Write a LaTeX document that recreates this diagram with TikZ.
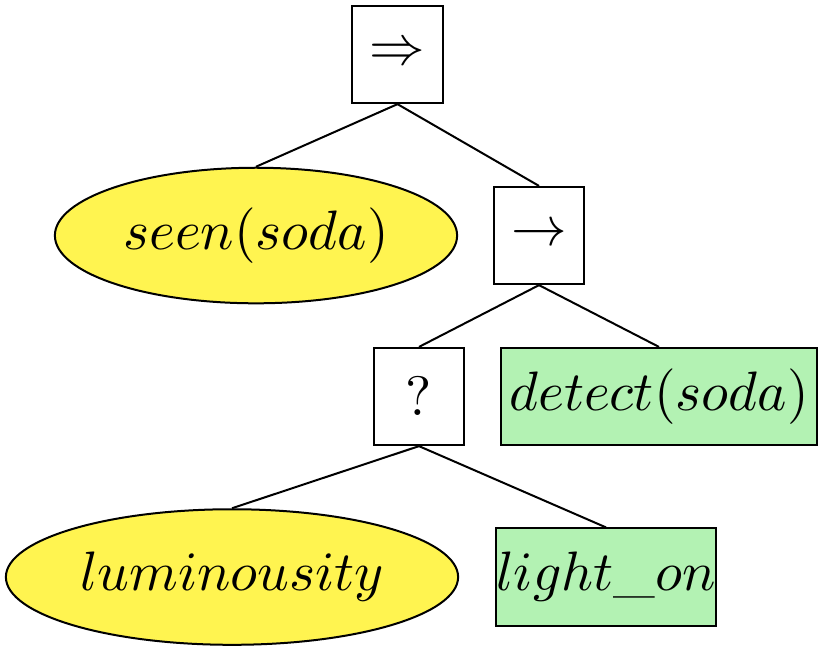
\documentclass[tikz,border=0pt]{standalone}
\usetikzlibrary{shapes.geometric}
\definecolor{yel}{HTML}{FFF450}
\definecolor{grn}{HTML}{B3F2B3}
\begin{document}
\begin{tikzpicture}[x=0.18pt,y=-0.18pt,line width=0.36pt,
  box/.style={draw,inner sep=0pt,minimum height=17.5pt},
  ell/.style={draw,ellipse,fill=yel,inner sep=0pt,minimum height=24.4pt}]
\useasboundingbox (0,0) rectangle (823,653);
\node[box,minimum width=16.4pt] (r) at (397.5,54.5) {$\Rightarrow$};
\node[ell,minimum width=72.4pt] (s) at (256,235.5) {$seen(soda)$};
\node[box,minimum width=16.2pt] (a) at (539,235.5) {$\rightarrow$};
\node[box,minimum width=16.2pt] (q) at (419,396.5) {$?$};
\node[box,fill=grn,minimum width=56.9pt] (d) at (659,396.5) {$detect(soda)$};
\node[ell,minimum width=81.4pt] (l) at (232,577) {$luminousity$};
\node[box,fill=grn,minimum width=39.6pt] (o) at (606,577) {$light\_on$};
\draw (r.south) -- (s.north);
\draw (r.south) -- (a.north);
\draw (a.south) -- (q.north);
\draw (a.south) -- (d.north);
\draw (q.south) -- (l.north);
\draw (q.south) -- (o.north);
\end{tikzpicture}
\end{document}
